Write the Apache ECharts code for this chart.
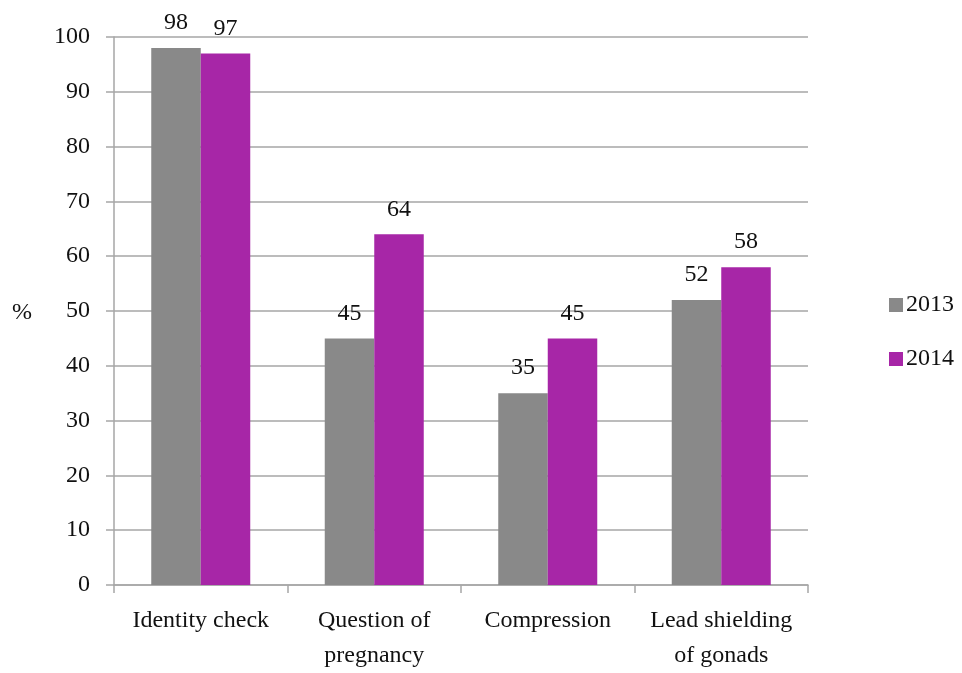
<!DOCTYPE html>
<html>
<head>
<meta charset="utf-8">
<script src="https://cdn.jsdelivr.net/npm/echarts@6/dist/echarts.min.js"></script>
<style>
html, body { margin: 0; padding: 0; background: #fff; }
#chart { width: 962px; height: 673px; }
</style>
</head>
<body>
<div id="chart"></div>
<script>
// Share of examinations where each check was performed, by year
const categories = ['Identity check', 'Question of\npregnancy', 'Compression', 'Lead shielding\nof gonads'];
const values2013 = [98, 45, 35, 52];
const values2014 = [97, 64, 45, 58];
const yTicks = { min: 0, max: 100, interval: 10 };

const FONT = '"Liberation Serif", "DejaVu Serif", serif';
const FS = 24;
const LINE = '#a6a6a6';

const chart = echarts.init(document.getElementById('chart'));
const labelStyle = {
  show: true,
  position: 'top',
  distance: 13,
  color: '#111',
  fontFamily: FONT,
  fontSize: FS
};
chart.setOption({
  animation: false,
  textStyle: { fontFamily: FONT },
  grid: { left: 114, right: 154, top: 37, bottom: 87, containLabel: false },
  graphic: [{
    type: 'text',
    left: 12,
    top: 301,
    style: { text: '%', font: FS + 'px ' + FONT, fill: '#111' }
  }],
  legend: {
    orient: 'vertical',
    left: 884,
    top: 288,
    itemWidth: 14,
    itemHeight: 14,
    itemGap: 30,
    icon: 'rect',
    textStyle: { fontFamily: FONT, fontSize: FS, color: '#111', padding: [0, 0, 0, -2] },
    data: ['2013', '2014']
  },
  xAxis: {
    type: 'category',
    data: categories,
    axisLine: { lineStyle: { color: LINE, width: 1.5 } },
    axisTick: { show: true, interval: 0, length: 8, lineStyle: { color: LINE, width: 1.5 } },
    axisLabel: { interval: 0, fontFamily: FONT, fontSize: FS, color: '#111', margin: 18, lineHeight: 35 }
  },
  yAxis: {
    type: 'value',
    min: yTicks.min,
    max: yTicks.max,
    interval: yTicks.interval,
    axisLine: { show: true, lineStyle: { color: LINE, width: 1.5 } },
    axisTick: { show: true, length: 8, lineStyle: { color: LINE, width: 1.5 } },
    splitLine: { lineStyle: { color: LINE, width: 1.5 } },
    axisLabel: { fontFamily: FONT, fontSize: FS, color: '#111', margin: 24 }
  },
  series: [
    {
      name: '2013',
      type: 'bar',
      data: values2013,
      barWidth: 49.5,
      barGap: '0%',
      itemStyle: { color: '#898989' },
      label: labelStyle
    },
    {
      name: '2014',
      type: 'bar',
      data: values2014,
      barWidth: 49.5,
      barGap: '0%',
      itemStyle: { color: '#a726a7' },
      label: labelStyle
    }
  ]
});
</script>
</body>
</html>
